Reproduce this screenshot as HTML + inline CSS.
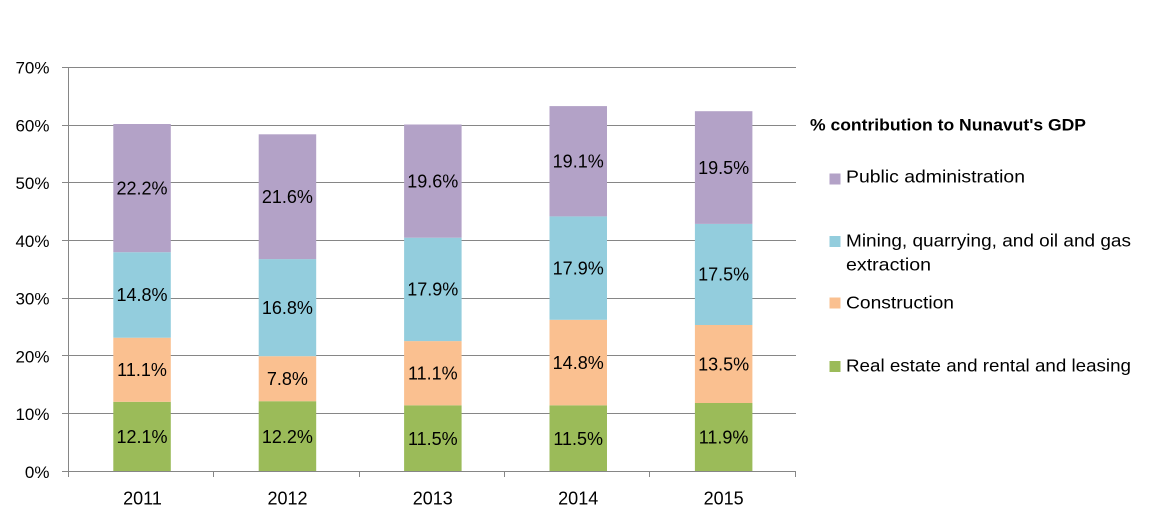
<!DOCTYPE html>
<html><head><meta charset="utf-8"><style>
html,body{margin:0;padding:0;background:#fff;}
svg{display:block;}
text{font-family:"Liberation Sans",Arial,sans-serif;fill:#000;}
</style></head><body>
<svg width="1157" height="523" viewBox="0 0 1157 523" xmlns="http://www.w3.org/2000/svg">
<rect x="0" y="0" width="1157" height="523" fill="#fff"/>
<g stroke="#868686" stroke-width="1">
<line x1="62" y1="67.5" x2="796" y2="67.5"/>
<line x1="62" y1="125.5" x2="796" y2="125.5"/>
<line x1="62" y1="182.5" x2="796" y2="182.5"/>
<line x1="62" y1="240.5" x2="796" y2="240.5"/>
<line x1="62" y1="298.5" x2="796" y2="298.5"/>
<line x1="62" y1="355.5" x2="796" y2="355.5"/>
<line x1="62" y1="413.5" x2="796" y2="413.5"/>
</g>
<g>
<rect x="113.3" y="401.8" width="57.5" height="69.9" fill="#9BBB59"/>
<rect x="113.3" y="337.7" width="57.5" height="64.1" fill="#FAC090"/>
<rect x="113.3" y="252.2" width="57.5" height="85.5" fill="#93CDDD"/>
<rect x="113.3" y="124.0" width="57.5" height="128.2" fill="#B3A2C7"/>
<rect x="258.7" y="401.2" width="57.5" height="70.5" fill="#9BBB59"/>
<rect x="258.7" y="356.2" width="57.5" height="45.0" fill="#FAC090"/>
<rect x="258.7" y="259.1" width="57.5" height="97.1" fill="#93CDDD"/>
<rect x="258.7" y="134.3" width="57.5" height="124.8" fill="#B3A2C7"/>
<rect x="404.1" y="405.3" width="57.5" height="66.4" fill="#9BBB59"/>
<rect x="404.1" y="341.1" width="57.5" height="64.2" fill="#FAC090"/>
<rect x="404.1" y="237.7" width="57.5" height="103.4" fill="#93CDDD"/>
<rect x="404.1" y="124.5" width="57.5" height="113.2" fill="#B3A2C7"/>
<rect x="549.5" y="405.3" width="57.5" height="66.4" fill="#9BBB59"/>
<rect x="549.5" y="319.8" width="57.5" height="85.5" fill="#FAC090"/>
<rect x="549.5" y="216.4" width="57.5" height="103.4" fill="#93CDDD"/>
<rect x="549.5" y="106.1" width="57.5" height="110.3" fill="#B3A2C7"/>
<rect x="694.9" y="403.0" width="57.5" height="68.7" fill="#9BBB59"/>
<rect x="694.9" y="325.0" width="57.5" height="78.0" fill="#FAC090"/>
<rect x="694.9" y="223.9" width="57.5" height="101.1" fill="#93CDDD"/>
<rect x="694.9" y="111.2" width="57.5" height="112.7" fill="#B3A2C7"/>
</g>
<g stroke="#868686" stroke-width="1">
<line x1="68.5" y1="67" x2="68.5" y2="472"/>
<line x1="62" y1="471.5" x2="796" y2="471.5"/>
<line x1="68.5" y1="471" x2="68.5" y2="477"/>
<line x1="213.5" y1="471" x2="213.5" y2="477"/>
<line x1="359.5" y1="471" x2="359.5" y2="477"/>
<line x1="504.5" y1="471" x2="504.5" y2="477"/>
<line x1="649.5" y1="471" x2="649.5" y2="477"/>
<line x1="795.5" y1="471" x2="795.5" y2="477"/>
</g>
<g font-size="17" text-anchor="end">
<text x="49.5" y="73.5">70%</text>
<text x="49.5" y="131.3">60%</text>
<text x="49.5" y="189">50%</text>
<text x="49.5" y="246.8">40%</text>
<text x="49.5" y="304.6">30%</text>
<text x="49.5" y="362.3">20%</text>
<text x="49.5" y="420.1">10%</text>
<text x="49.5" y="477.8">0%</text>
</g>
<g font-size="18" text-anchor="middle">
<text x="142.5" y="504.5">2011</text>
<text x="287.5" y="504.5">2012</text>
<text x="432.8" y="504.5">2013</text>
<text x="578.2" y="504.5">2014</text>
<text x="723.6" y="504.5">2015</text>
</g>
<g font-size="18" text-anchor="middle" fill="#111">
<text x="142" y="443">12.1%</text>
<text x="142" y="376">11.1%</text>
<text x="142" y="301.2">14.8%</text>
<text x="142" y="194.4">22.2%</text>
<text x="287.4" y="442.8">12.2%</text>
<text x="287.4" y="385">7.8%</text>
<text x="287.4" y="313.9">16.8%</text>
<text x="287.4" y="203">21.6%</text>
<text x="432.8" y="444.8">11.5%</text>
<text x="432.8" y="379.5">11.1%</text>
<text x="432.8" y="295.7">17.9%</text>
<text x="432.8" y="187.4">19.6%</text>
<text x="578.2" y="444.8">11.5%</text>
<text x="578.2" y="368.8">14.8%</text>
<text x="578.2" y="274.4">17.9%</text>
<text x="578.2" y="167.5">19.1%</text>
<text x="723.6" y="443.6">11.9%</text>
<text x="723.6" y="370.3">13.5%</text>
<text x="723.6" y="280.7">17.5%</text>
<text x="723.6" y="173.8">19.5%</text>
</g>
<text x="810" y="130.7" font-size="17" font-weight="bold" textLength="276" lengthAdjust="spacingAndGlyphs">% contribution to Nunavut's GDP</text>
<rect x="829.5" y="173.5" width="11" height="11" fill="#B3A2C7"/>
<text x="846" y="182.7" font-size="17.5" textLength="179" lengthAdjust="spacingAndGlyphs">Public administration</text>
<rect x="829.5" y="236" width="11" height="11" fill="#93CDDD"/>
<text x="846" y="246.7" font-size="17.5" textLength="285" lengthAdjust="spacingAndGlyphs">Mining, quarrying, and oil and gas</text>
<text x="846" y="270.7" font-size="17.5" textLength="85" lengthAdjust="spacingAndGlyphs">extraction</text>
<rect x="829.5" y="297.5" width="11" height="11" fill="#FAC090"/>
<text x="846" y="308.3" font-size="17.5" textLength="108" lengthAdjust="spacingAndGlyphs">Construction</text>
<rect x="829.5" y="361" width="11" height="11" fill="#9BBB59"/>
<text x="846" y="371.7" font-size="17.5" textLength="285" lengthAdjust="spacingAndGlyphs">Real estate and rental and leasing</text>
</svg>
</body></html>
